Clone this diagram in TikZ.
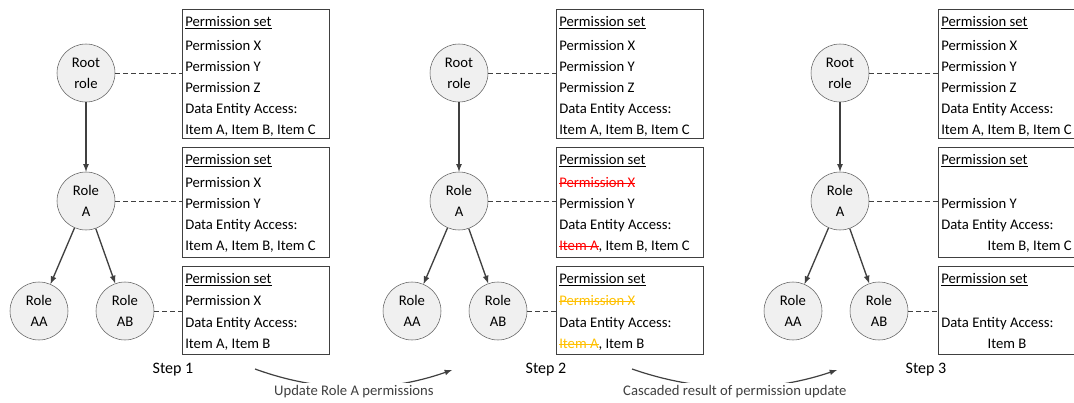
\documentclass[tikz,border=0pt]{standalone}
\usepackage{fontspec}
\setmainfont{Carlito}
\usetikzlibrary{%
  arrows,%
  calc%
}
\tikzset{>=latex}
\definecolor{edgegray}{HTML}{404040}
\definecolor{cutred}{HTML}{FF0000}
\definecolor{cutorange}{HTML}{FFC000}
\newsavebox{\cutbox}
\newcommand{\strikeout}[1]{\sbox{\cutbox}{#1}\rlap{\usebox{\cutbox}}%
  \rule[0.25em]{\wd\cutbox}{0.75pt}}
\newcommand{\cutred}[1]{{\color{cutred}\strikeout{#1}}}
\newcommand{\cutorange}[1]{{\color{cutorange}\strikeout{#1}}}
\newcommand{\permtitle}{\underline{Permission set}}

\tikzset{
  role/.style={circle,draw=edgegray!85,fill=black!6,minimum size=43.5pt,
    inner sep=0pt,align=center,font=\fontsize{11}{15.75}\selectfont},
  permbox/.style={draw=edgegray,anchor=north west,minimum width=110.25pt,
    inner sep=0pt},
  permtext/.style={anchor=north west,align=left,inner sep=0pt,
    font=\fontsize{11}{15.75}\selectfont},
  tie/.style={edgegray,dash pattern=on 3.75pt off 2.25pt},
  link/.style={->,edgegray,line width=1pt},
  steplabel/.style={font=\fontsize{12}{14}\selectfont},
  note/.style={fill=white,inner sep=1.5pt,font=\fontsize{11}{13}\selectfont},
}

\begin{document}
\begin{tikzpicture}[x=0.75pt,y=-0.75pt]
  \useasboundingbox (0,0) rectangle (1074,403);
  \clip (0,0) rectangle (1074,403);

  % step 1
  \node[role] (root1) at (86,73) {Root\\role};
  \node[role] (roleA1) at (86,201) {Role\\A};
  \node[role] (roleAA1) at (39,311) {Role\\AA};
  \node[role] (roleAB1) at (125,311) {Role\\AB};
  \draw[link] (root1) -- (roleA1);
  \draw[link] (roleA1) -- (roleAA1);
  \draw[link] (roleA1) -- (roleAB1);
  \node[permbox,minimum height=96.75pt] (setR1) at (182,9) {};
  \node[permbox,minimum height=82.5pt] (setA1) at (182,147) {};
  \node[permbox,minimum height=66pt] (setAB1) at (182,266) {};
  \node[permtext] (txtR1) at ($(setR1.north west)+(3,7)$)
    {\permtitle\\[2.25pt] Permission X\\ Permission Y\\ Permission Z\\
     Data Entity Access:\\ Item A, Item B, Item C};
  \node[permtext] (txtA1) at ($(setA1.north west)+(3,7)$)
    {\permtitle\\[1.5pt] Permission X\\ Permission Y\\
     Data Entity Access:\\ Item A, Item B, Item C};
  \node[permtext] (txtAB1) at ($(setAB1.north west)+(3,7)$)
    {\permtitle\\[1pt] Permission X\\[0.75pt] Data Entity Access:\\
     Item A, Item B};
  \draw[tie] (root1.east) -- (setR1.west |- root1.east);
  \draw[tie] (roleA1.east) -- (setA1.west |- roleA1.east);
  \draw[tie] (roleAB1.east) -- (setAB1.west |- roleAB1.east);
  \node[steplabel] (step1) at (173,370) {Step 1};

  % step 2
  \node[role] (root2) at (459,73) {Root\\role};
  \node[role] (roleA2) at (459,201) {Role\\A};
  \node[role] (roleAA2) at (412,311) {Role\\AA};
  \node[role] (roleAB2) at (498,311) {Role\\AB};
  \draw[link] (root2) -- (roleA2);
  \draw[link] (roleA2) -- (roleAA2);
  \draw[link] (roleA2) -- (roleAB2);
  \node[permbox,minimum height=96.75pt] (setR2) at (556,9) {};
  \node[permbox,minimum height=82.5pt] (setA2) at (556,147) {};
  \node[permbox,minimum height=66pt] (setAB2) at (556,266) {};
  \node[permtext] (txtR2) at ($(setR2.north west)+(3,7)$)
    {\permtitle\\[2.25pt] Permission X\\ Permission Y\\ Permission Z\\
     Data Entity Access:\\ Item A, Item B, Item C};
  \node[permtext] (txtA2) at ($(setA2.north west)+(3,7)$)
    {\permtitle\\[1.5pt] \cutred{Permission X}\\ Permission Y\\
     Data Entity Access:\\ \cutred{Item A}, Item B, Item C};
  \node[permtext] (txtAB2) at ($(setAB2.north west)+(3,7)$)
    {\permtitle\\[1pt] \cutorange{Permission X}\\[0.75pt] Data Entity Access:\\
     \cutorange{Item A}, Item B};
  \draw[tie] (root2.east) -- (setR2.west |- root2.east);
  \draw[tie] (roleA2.east) -- (setA2.west |- roleA2.east);
  \draw[tie] (roleAB2.east) -- (setAB2.west |- roleAB2.east);
  \node[steplabel] (step2) at (546,370) {Step 2};

  % step 3
  \node[role] (root3) at (840,73) {Root\\role};
  \node[role] (roleA3) at (840,201) {Role\\A};
  \node[role] (roleAA3) at (793,311) {Role\\AA};
  \node[role] (roleAB3) at (879,311) {Role\\AB};
  \draw[link] (root3) -- (roleA3);
  \draw[link] (roleA3) -- (roleAA3);
  \draw[link] (roleA3) -- (roleAB3);
  \node[permbox,minimum height=96.75pt] (setR3) at (938,9) {};
  \node[permbox,minimum height=82.5pt] (setA3) at (938,147) {};
  \node[permbox,minimum height=66pt] (setAB3) at (938,266) {};
  \node[permtext] (txtR3) at ($(setR3.north west)+(3,7)$)
    {\permtitle\\[2.25pt] Permission X\\ Permission Y\\ Permission Z\\
     Data Entity Access:\\ Item A, Item B, Item C};
  \node[permtext] (txtA3) at ($(setA3.north west)+(3,7)$)
    {\permtitle\\[1.5pt] \mbox{}\\ Permission Y\\
     Data Entity Access:\\ \phantom{Item A, }Item B, Item C};
  \node[permtext] (txtAB3) at ($(setAB3.north west)+(3,7)$)
    {\permtitle\\[1pt] \mbox{}\\[0.75pt] Data Entity Access:\\
     \phantom{Item A, }Item B};
  \draw[tie] (root3.east) -- (setR3.west |- root3.east);
  \draw[tie] (roleA3.east) -- (setA3.west |- roleA3.east);
  \draw[tie] (roleAB3.east) -- (setAB3.west |- roleAB3.east);
  \node[steplabel] (step3) at (926,370) {Step 3};

  % transitions
  \coordinate (from1) at (255,369);
  \coordinate (to1) at (452,370);
  \coordinate (from2) at (632,369);
  \coordinate (to2) at (837,370);
  \draw[->,edgegray,line width=0.9pt] (from1) .. controls (321,393) and (387,393) .. (to1)
    node[note,pos=0.5,yshift=-3pt] (upd) {Update Role A permissions};
  \draw[->,edgegray,line width=0.9pt] (from2) .. controls (701,393) and (769,393) .. (to2)
    node[note,pos=0.5,yshift=-3pt] (casc) {Cascaded result of permission update};
\end{tikzpicture}
\end{document}
